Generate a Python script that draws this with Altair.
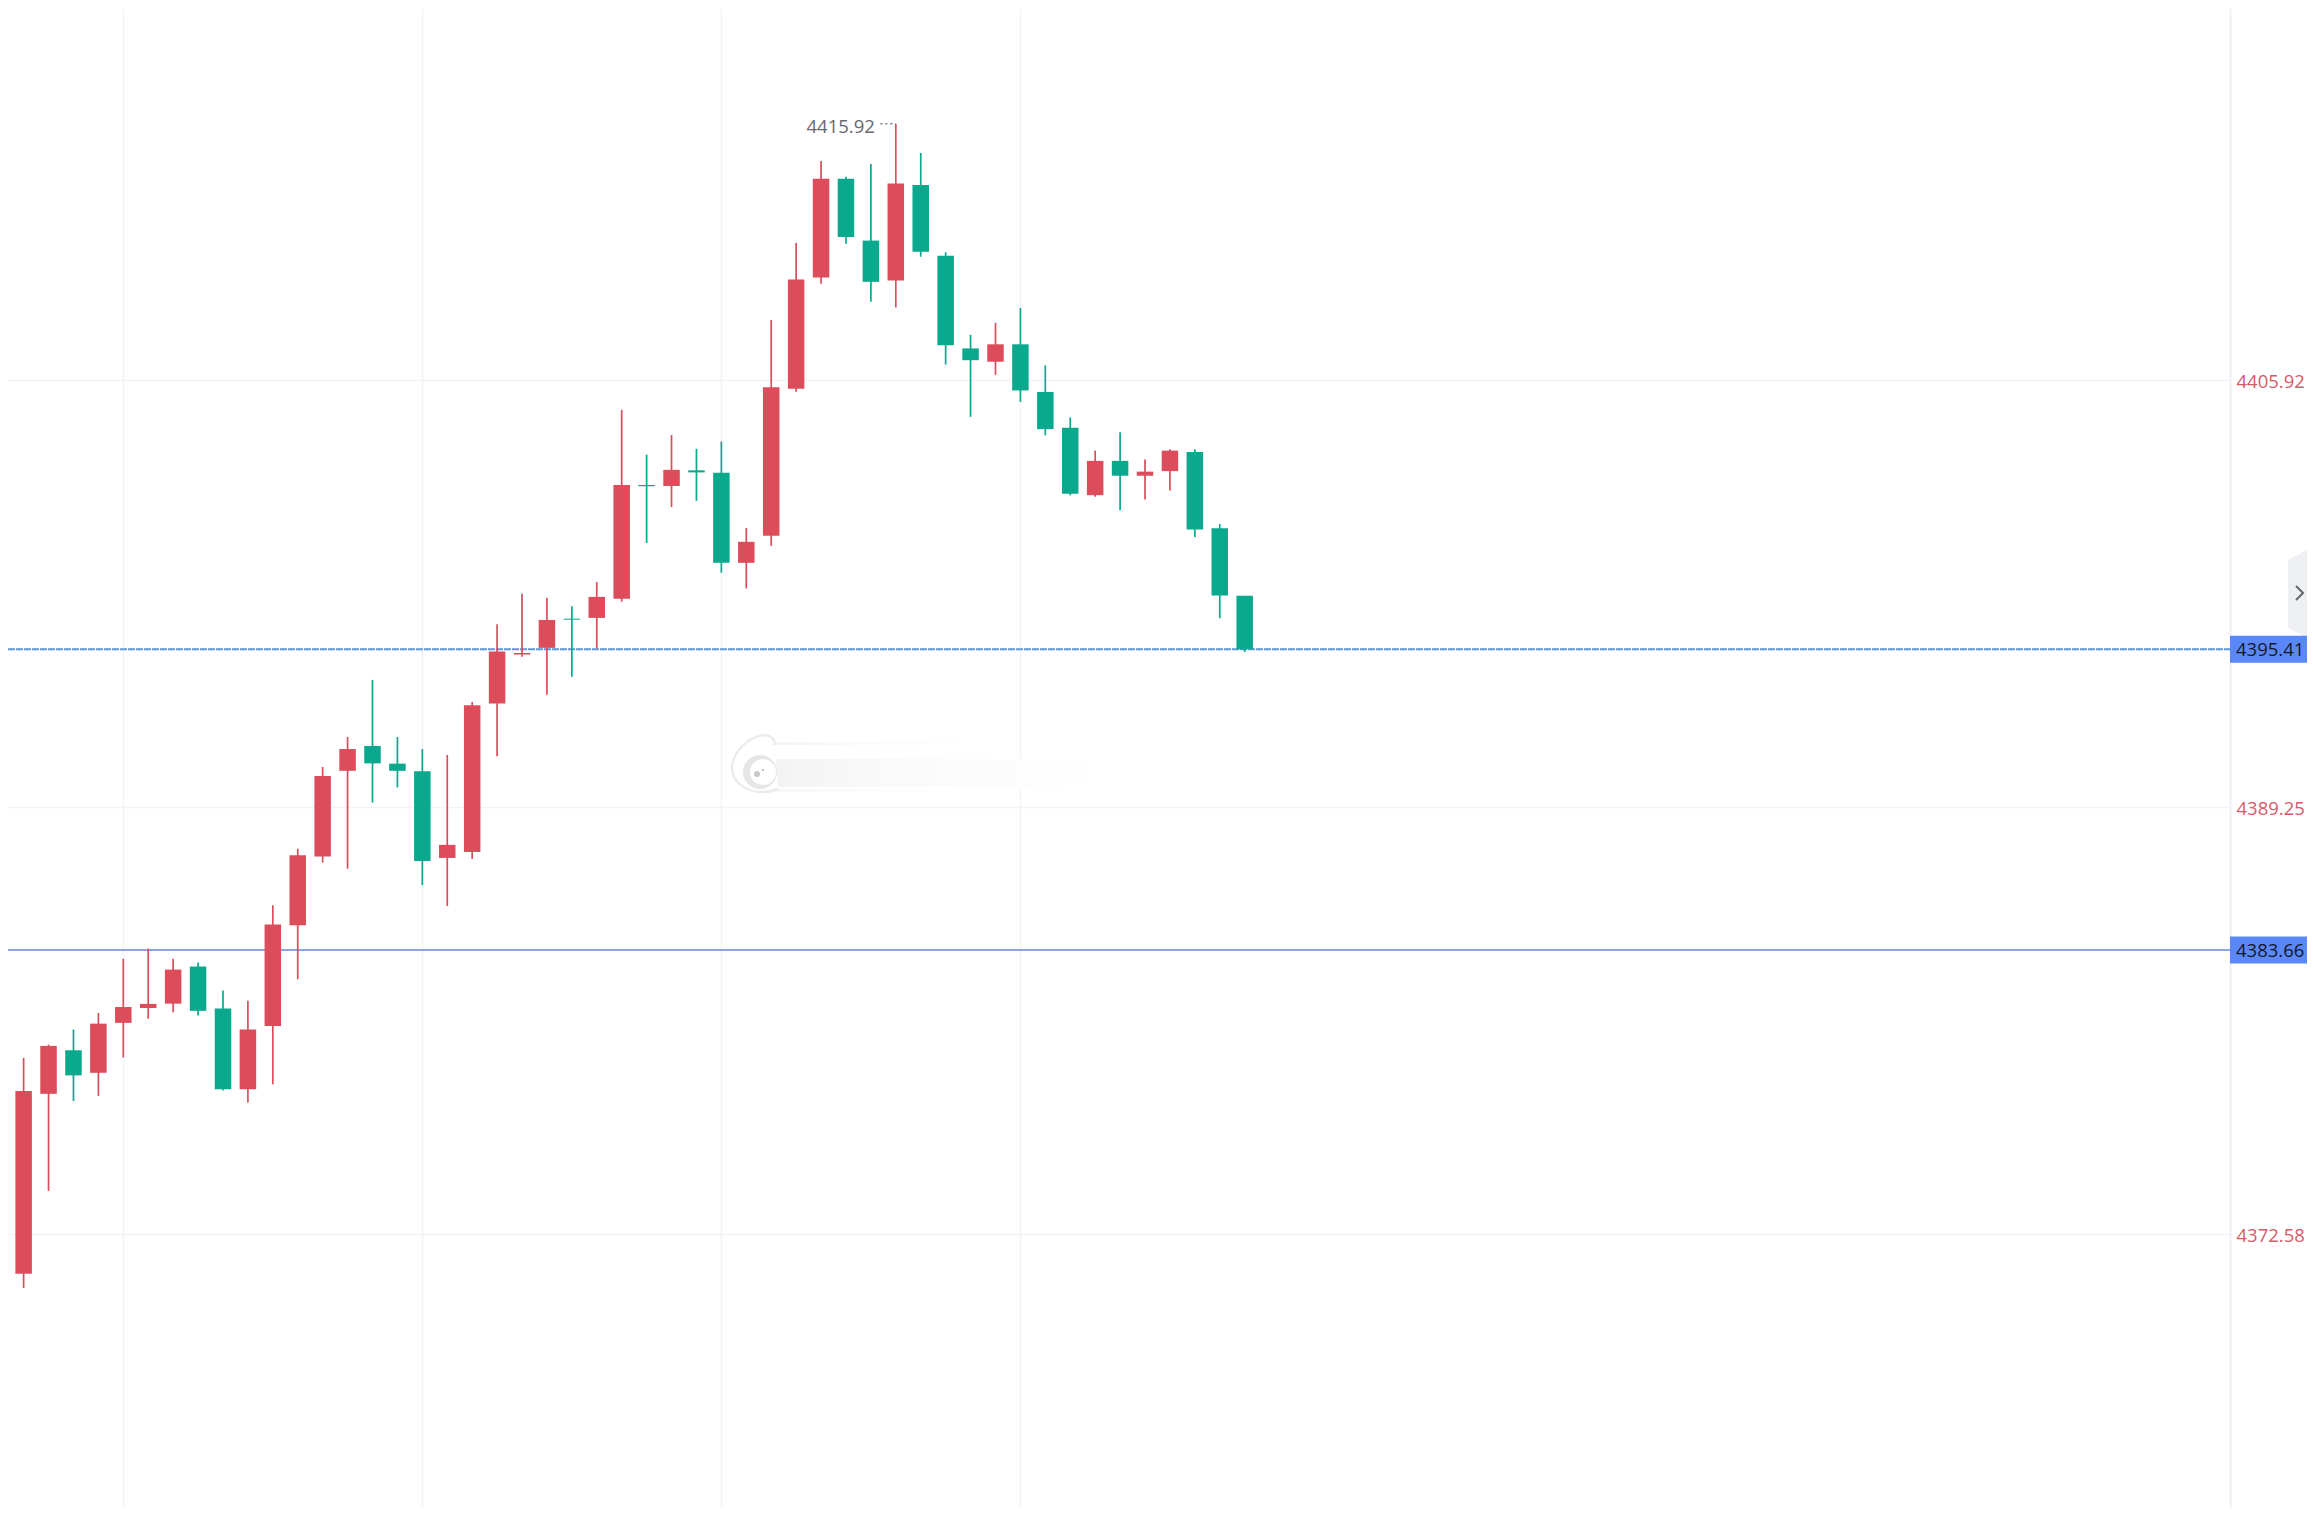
import altair as alt
import pandas as pd

opens = [4368.91,4371.03,4378.05,4379.75,4378.87,4380.82,4381.40,4381.57,4383.02,4381.38,
         4378.23,4380.70,4384.63,4387.31,4390.66,4391.63,4390.94,4390.64,4387.26,4387.49,
         4393.29,4395.20,4395.46,4396.60,4396.63,4397.38,4401.82,4401.78,4402.39,4402.30,
         4398.78,4399.84,4405.58,4409.92,4413.77,4411.36,4409.80,4413.53,4410.77,4407.15,
         4406.63,4407.31,4405.45,4404.05,4401.42,4402.76,4402.18,4402.36,4403.11,4400.13,
         4397.49]
closes = [4371.02,4378.16,4379.92,4378.77,4380.79,4381.44,4381.56,4382.90,4381.29,4378.23,
          4380.56,4384.66,4387.36,4390.46,4391.51,4390.95,4390.66,4387.14,4387.77,4393.22,
          4395.32,4395.26,4396.55,4396.56,4397.45,4401.82,4401.77,4402.41,4402.31,4398.78,
          4399.60,4405.63,4409.84,4413.77,4411.50,4409.75,4413.59,4410.92,4407.27,4406.69,
          4407.31,4405.51,4404.00,4401.48,4402.76,4402.18,4402.34,4403.16,4400.08,4397.50,
          4395.41]
highs = [4371.02,4379.45,4379.97,4380.56,4381.21,4383.32,4383.72,4383.32,4383.18,4382.08,
         4381.68,4385.41,4387.62,4390.81,4391.98,4394.21,4391.98,4391.51,4391.28,4393.35,
         4396.38,4397.57,4397.42,4397.08,4398.03,4404.75,4403.00,4403.77,4403.23,4403.52,
         4400.14,4408.26,4411.27,4414.47,4413.85,4414.35,4415.92,4414.78,4410.90,4407.68,
         4408.15,4408.73,4406.49,4404.45,4403.16,4403.88,4402.81,4403.21,4403.21,4400.29,
         4397.49]
lows = [4368.91,4370.47,4374.26,4377.77,4377.97,4379.47,4380.98,4381.23,4381.11,4378.18,
        4377.71,4378.42,4382.52,4387.08,4386.84,4389.42,4390.01,4386.20,4385.38,4387.22,
        4391.23,4395.11,4393.63,4394.33,4395.44,4397.26,4399.56,4400.96,4401.20,4398.39,
        4397.78,4399.44,4405.46,4409.67,4411.24,4408.97,4408.75,4410.73,4406.52,4404.48,
        4406.12,4405.06,4403.76,4401.42,4401.36,4400.83,4401.25,4401.60,4399.78,4396.62,
        4395.30]
axis_prices = [4405.92, 4389.25, 4372.58]
tag_prices = [4395.41, 4383.66]
time_grid = [5, 17, 29, 41]
peak_label = "4415.92"
peak_price = 4415.92
peak_index = 36

RED, GREEN = "#dc4c5b", "#0aa88c"
W, H = 2222, 1500
RIGHT = 77

df = pd.DataFrame({"i": range(len(opens)), "open": opens, "close": closes,
                   "high": highs, "low": lows})
df["dir"] = ["up" if c >= o else "down" for o, c in zip(opens, closes)]
df["top"] = df[["open", "close"]].max(axis=1)
df["bot"] = df[["open", "close"]].min(axis=1)

xs = alt.Scale(domain=[0.373, 89.54], nice=False, zero=False, padding=0)
ys = alt.Scale(domain=[4361.88, 4420.44], nice=False, zero=False, padding=0)
X_AXIS = alt.Axis(values=time_grid, grid=True, gridColor="#f4f4f6", gridWidth=1.5,
                  labels=False, ticks=False, domain=False, title=None)
X = alt.X("i:Q", scale=xs, title=None, axis=X_AXIS)
Y_AXIS = alt.Axis(values=axis_prices, orient="right", grid=True, gridColor="#f3f3f5", gridWidth=1.5,
                  format=".2f", labelColor="#d65a6a", labelFont="Open Sans", labelFontSize=18.5,
                  labelPadding=6, labelOffset=2, ticks=False, domainColor="#eef0f5", domainWidth=2,
                  labelOverlap=False, title=None)
color = alt.Color("dir:N", scale=alt.Scale(domain=["up", "down"], range=[RED, GREEN]), legend=None)

base = alt.Chart(df)
wicks = base.mark_rule(strokeWidth=1.7, clip=True).encode(
    x=X, y=alt.Y("high:Q", scale=ys, axis=Y_AXIS), y2="low:Q", color=color)
bodies = base.mark_bar(size=16.5, clip=True).encode(
    x=X, y=alt.Y("top:Q", scale=ys, axis=Y_AXIS), y2="bot:Q", color=color)

tags = pd.DataFrame({"p": tag_prices, "dash": [1, 0]})
line_dashed = alt.Chart(tags[tags.dash == 1]).mark_rule(color="#5f97d6", strokeWidth=2, strokeDash=[7, 1]).encode(
    x=alt.value(0), x2=alt.value(W), y=alt.Y("p:Q", scale=ys, axis=Y_AXIS))
line_solid = alt.Chart(tags[tags.dash == 0]).mark_rule(color="#8aa4e6", strokeWidth=2).encode(
    x=alt.value(0), x2=alt.value(W), y=alt.Y("p:Q", scale=ys, axis=Y_AXIS))
tag_bg = alt.Chart(tags).mark_rule(color="#5b88f8", strokeWidth=27).encode(
    x=alt.value(W), x2=alt.value(W + RIGHT), y=alt.Y("p:Q", scale=ys, axis=Y_AXIS))
tag_text = alt.Chart(tags).mark_text(align="left", baseline="middle", font="Open Sans", fontSize=18.5,
                                     color="#14182c", dy=1).encode(
    x=alt.value(W + 6), y=alt.Y("p:Q", scale=ys, axis=Y_AXIS), text=alt.Text("p:Q", format=".2f"))

peak = pd.DataFrame({"i": [peak_index], "i0": [peak_index - 0.62], "p": [peak_price], "t": [peak_label]})
peak_dots = alt.Chart(peak).mark_rule(color="#777a80", strokeWidth=1.5, strokeDash=[2, 3]).encode(
    x=alt.X("i0:Q", scale=xs, axis=X_AXIS), x2="i:Q", y=alt.Y("p:Q", scale=ys, axis=Y_AXIS))
peak_text = alt.Chart(peak).mark_text(align="right", baseline="middle", font="Open Sans", fontSize=18.5,
                                      color="#66686e", dx=-21, dy=3).encode(
    x=X, y=alt.Y("p:Q", scale=ys, axis=Y_AXIS), text="t:N")

# collapse button
one = pd.DataFrame({"a": [0]})
button = alt.Chart(one).mark_point(shape="M-12 -33 L12 -46 L12 47 L-12 35 Z", size=4, filled=True,
                                   color="#eef0f3", opacity=1).encode(
    x=alt.value(2292), y=alt.value(585))
chevron = alt.Chart(one).mark_point(shape="M-4 -7 L3 0 L-4 7", size=4, filled=False,
                                    color="#66686e", strokeWidth=2, opacity=1).encode(
    x=alt.value(2292), y=alt.value(585))


# faint watermark
def fade(c, mid):
    return alt.LinearGradient(gradient="linear", x1=0, x2=1, y1=0, y2=0,
                              stops=[alt.GradientStop(color=c, offset=0),
                                     alt.GradientStop(color=mid, offset=0.35),
                                     alt.GradientStop(color="#ffffff", offset=1)])


band = alt.Chart(one).mark_rect(color=fade("#f3f3f3", "#fafafa")).encode(
    x=alt.value(765), x2=alt.value(1090), y=alt.value(751), y2=alt.value(779))
band_top = alt.Chart(one).mark_rect(color=fade("#f4f4f4", "#fbfbfb")).encode(
    x=alt.value(765), x2=alt.value(1000), y=alt.value(734), y2=alt.value(737))
band_bot = alt.Chart(one).mark_rect(color=fade("#f6f6f6", "#fcfcfc")).encode(
    x=alt.value(765), x2=alt.value(1000), y=alt.value(781), y2=alt.value(784))
shell = alt.Chart(one).mark_point(
    shape="M10 -20 C10 -25 7 -30 -2 -30 C-20 -27 -33 -10 -33 3 C-33 16 -20 27 -3 27 C3 27 8 26 13 24",
    size=4, filled=True, fill="#ffffff", stroke="#ececec", strokeWidth=2.5, opacity=1).encode(
    x=alt.value(757), y=alt.value(757))


def dot(px, py, d, c):
    return alt.Chart(one).mark_point(shape="circle", size=d * d, filled=True, color=c, opacity=1).encode(
        x=alt.value(px), y=alt.value(py))


chart = alt.layer(
    band, band_top, band_bot, shell,
    dot(752, 764, 34, "#e6e6e6"), dot(755, 764, 26, "#ffffff"),
    dot(749, 766, 6, "#c9c9c9"), dot(755, 762, 2.5, "#c9c9c9"),
    line_solid, line_dashed,
    wicks, bodies,
    peak_dots, peak_text,
    button, chevron, tag_bg, tag_text,
).properties(width=W, height=H, autosize="none",
             padding={"left": 0, "top": 0, "right": RIGHT, "bottom": 0},
             background="#ffffff"
).configure_view(stroke=None)

chart.save("out.html", embed_options={"renderer": "svg", "actions": False})
